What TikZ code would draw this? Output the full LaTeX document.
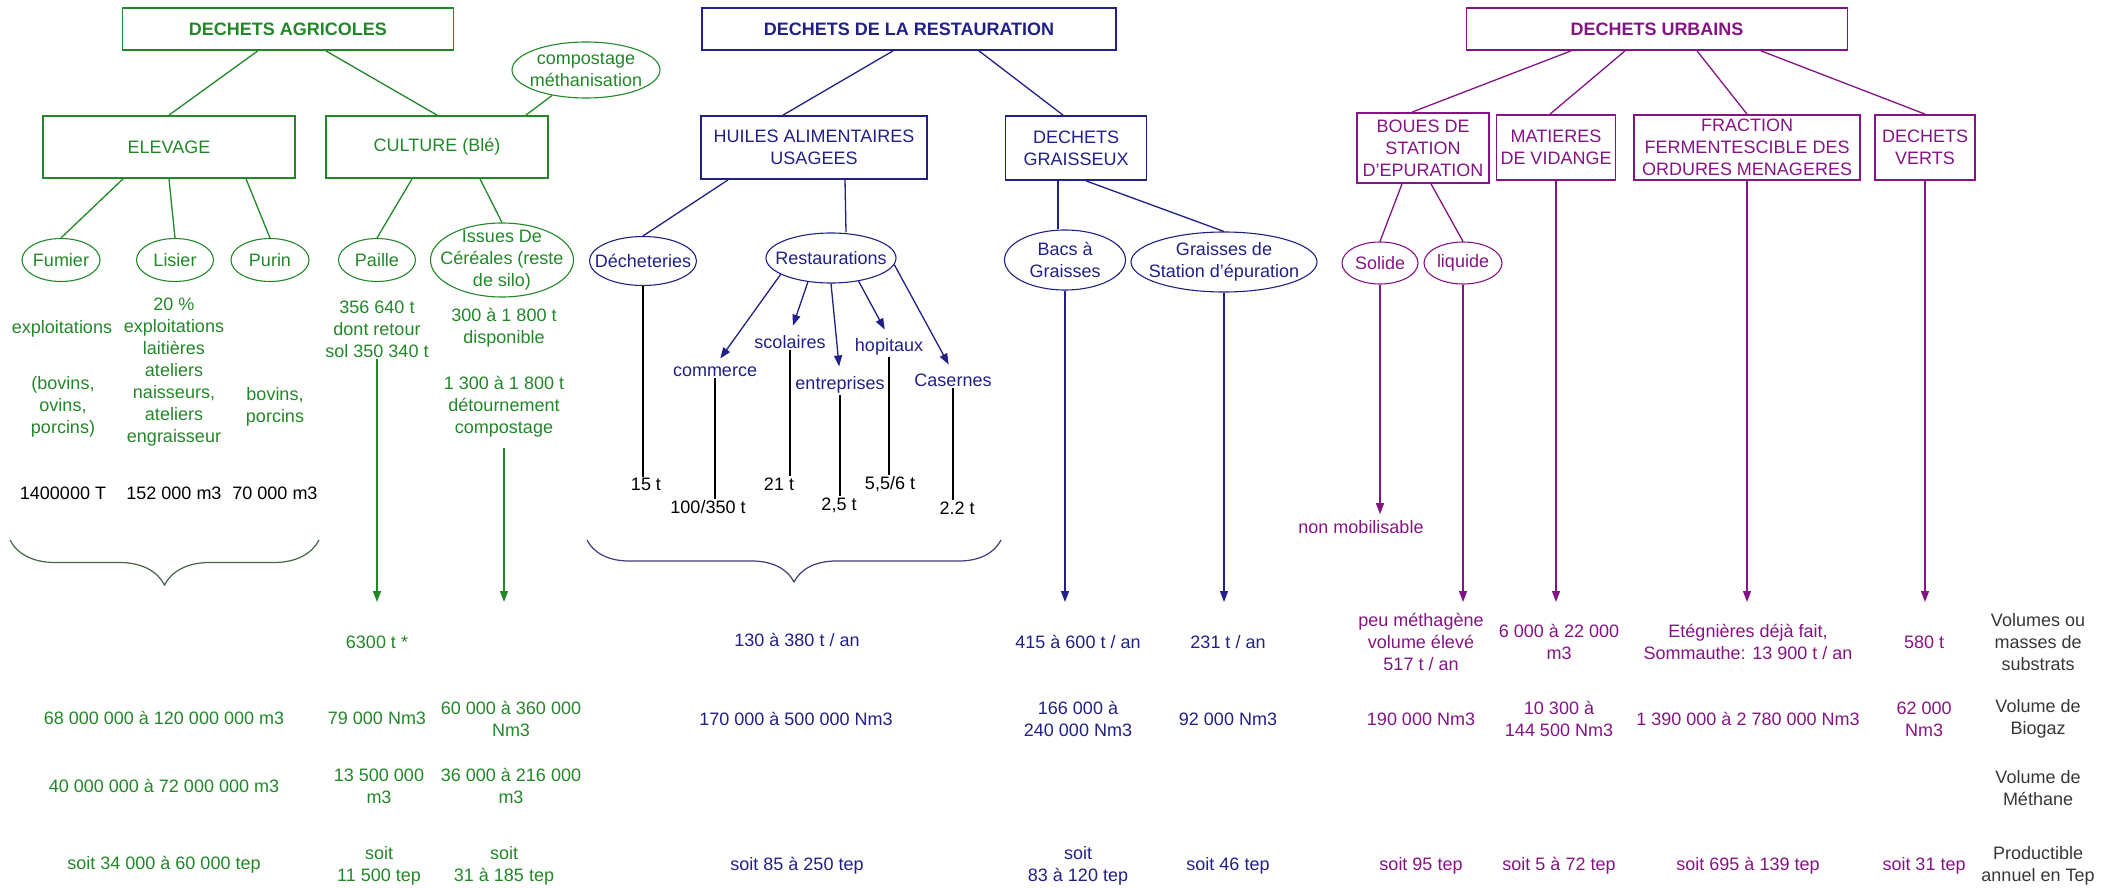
\documentclass[tikz,border=0pt]{standalone}
\usepackage{fontspec}
\setmainfont{Liberation Sans}
\usepackage{tikz}
\usetikzlibrary{arrows.meta}
\usetikzlibrary{shapes.geometric}
\usetikzlibrary{decorations.pathreplacing,calc}
\definecolor{agrigreen}{RGB}{34,135,40}
\definecolor{restblue}{RGB}{32,32,135}
\definecolor{urbpurple}{RGB}{132,20,132}
\definecolor{labelgray}{RGB}{55,55,55}

\begin{document}
\begin{tikzpicture}[x=1pt,y=-1pt,
  every node/.style={font=\fontsize{18}{22}\selectfont, align=center, inner sep=1pt},
  box/.style={draw, rectangle, line width=1.8pt, inner sep=2pt},
  title/.style={box, font=\fontsize{18}{22}\selectfont\bfseries},
  oval/.style={draw, ellipse, line width=1.1pt, inner sep=0pt},
  link/.style={line width=1.3pt},
  down/.style={line width=1.3pt, -{Triangle[width=8pt,length=11pt]}},
  agribox/.style={box, draw=agrigreen, text=agrigreen},
  restbox/.style={box, draw=restblue, text=restblue},
  urbbox/.style={box, draw=urbpurple, text=urbpurple},
  agrioval/.style={oval, draw=agrigreen, label={[text=agrigreen]center:#1}},
  restoval/.style={oval, draw=restblue, label={[text=restblue]center:#1}},
  urboval/.style={oval, draw=urbpurple, label={[text=urbpurple]center:#1}},
  agritxt/.style={text=agrigreen},
  resttxt/.style={text=restblue},
  urbtxt/.style={text=urbpurple},
  axe/.style={text=labelgray},
  agrilink/.style={link, draw=agrigreen},
  restlink/.style={link, draw=restblue},
  urblink/.style={link, draw=urbpurple},
  agridown/.style={down, color=agrigreen},
  restdown/.style={down, color=restblue},
  urbdown/.style={down, color=urbpurple}]

\useasboundingbox (0,0) rectangle (2116,888);
\coordinate (tiprow) at (0,602);

% dechets agricoles
\node[title, agribox, minimum width=331pt, minimum height=42pt] (agri) at (288,29) {DECHETS AGRICOLES};
\node[agrioval={compostage\\méthanisation}, minimum width=148pt, minimum height=56pt] (compost) at (586,70) {};
\node[agribox, minimum width=252pt, minimum height=62pt] (elevage) at (169,147) {ELEVAGE};
\node[agribox, minimum width=222pt, minimum height=62pt] (culture) at (437,147) {CULTURE (Blé)};
\node[agrioval={Fumier}, minimum width=78pt, minimum height=43pt] (fumier) at (61,260) {};
\node[agrioval={Lisier}, minimum width=77pt, minimum height=43pt] (lisier) at (175,260) {};
\node[agrioval={Purin}, minimum width=78pt, minimum height=43pt] (purin) at (270,260) {};
\node[agrioval={Paille}, minimum width=77pt, minimum height=43pt] (paille) at (377,260) {};
\node[agrioval={Issues De\\Céréales (reste\\de silo)}, minimum width=143pt, minimum height=74pt] (issues) at (502,260) {};
\draw[agrilink] (agri) -- (elevage.north);
\draw[agrilink] (agri) -- (culture.north);
\draw[agrilink] (compost) -- ($(culture.north east)+(-23,0)$);
\draw[agrilink] ($(elevage.south)+(-46,0)$) -- (fumier.north);
\draw[agrilink] (elevage.south) -- (lisier.north);
\draw[agrilink] ($(elevage.south)+(77,0)$) -- (purin.north);
\draw[agrilink] ($(culture.south)+(-25,0)$) -- (paille.north);
\draw[agrilink] ($(culture.south)+(43,0)$) -- (issues.north);

\node[agritxt] (fumexpl) at (62,329) {exploitations};
\node[agritxt] (fumtxt) at (63,407) {(bovins,\\ovins,\\porcins)};
\node[agritxt] (listxt) at (174,372) {20 \%\\exploitations\\laitières\\ateliers\\naisseurs,\\ateliers\\engraisseur};
\node[agritxt] (purtxt) at (275,407) {bovins,\\porcins};
\node[agritxt] (pailtxt) at (377,329) {356 640 t\\dont retour\\sol 350 340 t};
\node[agritxt] (isstxt) at (504,328) {300 à 1 800 t\\disponible};
\node[agritxt] (isscomp) at (504,407) {1 300 à 1 800 t\\détournement\\compostage};
\node (fumval) at (63,493) {1400000 T};
\node (lisval) at (174,493) {152 000 m3};
\node (purval) at (275,493) {70 000 m3};
\coordinate (agbl) at (10,540);
\coordinate (agbr) at (319,540);
\draw[color={rgb,255:red,70;green,100;blue,70}, line width=1.2pt, decorate, decoration={brace, mirror, amplitude=45pt}] (agbl) -- (agbr);
\draw[agridown] (pailtxt.south) -- (pailtxt.south |- tiprow);
\draw[agridown, shorten <=9pt] (isscomp.south) -- (isscomp.south |- tiprow);

\node[agritxt] (pailsub) at (377,642) {6300 t *};
\node[agritxt] (agrbio) at (164,718) {68 000 000 à 120 000 000 m3};
\node[agritxt] (pailbio) at (377,718) {79 000 Nm3};
\node[agritxt] (issbio) at (511,719) {60 000 à 360 000\\Nm3};
\node[agritxt] (agrmet) at (164,786) {40 000 000 à 72 000 000 m3};
\node[agritxt] (pailmet) at (379,786) {13 500 000\\m3};
\node[agritxt] (issmet) at (511,786) {36 000 à 216 000\\m3};
\node[agritxt] (agrtep) at (164,865) {soit 34 000 à 60 000 tep};
\node[agritxt] (pailtep) at (379,866) {soit\\11 500 tep};
\node[agritxt] (isstep) at (504,866) {soit\\31 à 185 tep};

% dechets de la restauration
\node[title, restbox, minimum width=414pt, minimum height=42pt] (resto) at (909,29) {DECHETS DE LA RESTAURATION};
\node[restbox, minimum width=226pt, minimum height=63pt] (huiles) at (814,147.5) {HUILES ALIMENTAIRES\\USAGEES};
\node[restbox, minimum width=141pt, minimum height=64pt] (graisseux) at (1076,148) {DECHETS\\GRAISSEUX};
\node[restoval={Décheteries}, minimum width=107pt, minimum height=49pt] (dech) at (643,261) {};
\node[restoval={Restaurations}, minimum width=130pt, minimum height=50pt] (rest) at (831,258) {};
\node[restoval={Bacs à\\Graisses}, minimum width=121pt, minimum height=60pt] (bacs) at (1065,260) {};
\node[restoval={Graisses de\\Station d'épuration}, minimum width=186pt, minimum height=60pt] (gstat) at (1224,262) {};
\draw[restlink] ($(resto.south)+(-16,0)$) -- ($(huiles.north)+(-31,0)$);
\draw[restlink] ($(resto.south)+(70,0)$) -- ($(graisseux.north)+(-13,0)$);
\draw[restlink] ($(huiles.south)+(-86,0)$) -- (dech.north);
\draw[restlink] ($(huiles.south)+(31,0)$) -- ($(rest.north)+(15,0)$);
\draw[restlink] ($(graisseux.south)+(-18,0)$) -- ($(bacs.north)+(-7,0)$);
\draw[restlink] ($(graisseux.south)+(10,0)$) -- (gstat.north);

\node[resttxt] (commerce) at (715,372) {commerce};
\node[resttxt] (scolaires) at (790,342) {scolaires};
\node[resttxt] (entreprises) at (840,385) {entreprises};
\node[resttxt] (hopitaux) at (889,347) {hopitaux};
\node[resttxt] (casernes) at (953,380) {Casernes};
\draw[restdown, shorten >=9pt] (rest.198) -- (commerce.north);
\draw[restdown, shorten >=9pt] (rest.226) -- (scolaires.north);
\draw[restdown, shorten >=9pt] (rest.270) -- (entreprises.north);
\draw[restdown, shorten >=9pt] (rest.320) -- (hopitaux.north);
\draw[restdown, shorten >=9pt] (rest.354) -- (casernes.north);

\node (v15) at (646,484) {15 t};
\node (v100) at (708,507) {100/350 t};
\node (v21) at (779,484) {21 t};
\node (v25) at (839,505) {2,5 t};
\node (v55) at (890,484) {5,5/6 t};
\node (v22) at (957,508) {2.2 t};
\draw[link] (dech.south) -- (dech.south |- v15.north);
\draw[link] (commerce.south) -- (commerce.south |- v100.north);
\draw[link] (scolaires.south) -- (scolaires.south |- v21.north);
\draw[link] (entreprises.south) -- (entreprises.south |- v25.north);
\draw[link] (hopitaux.south) -- (hopitaux.south |- v55.north);
\draw[link] (casernes.south) -- (casernes.south |- v22.north);
\coordinate (rsbl) at (587,540);
\coordinate (rsbr) at (1001,540);
\draw[color={rgb,255:red,60;green,60;blue,120}, line width=1.2pt, decorate, decoration={brace, mirror, amplitude=42pt}] (rsbl) -- (rsbr);
\draw[restdown] (bacs.south) -- (bacs.south |- tiprow);
\draw[restdown] (gstat.south) -- (gstat.south |- tiprow);

\node[resttxt] (restsub) at (797,640) {130 à 380 t / an};
\node[resttxt] (bacssub) at (1078,642) {415 à 600 t / an};
\node[resttxt] (gstatsub) at (1228,642) {231 t / an};
\node[resttxt] (restbio) at (796,719) {170 000 à 500 000 Nm3};
\node[resttxt] (bacsbio) at (1078,719) {166 000 à\\240 000 Nm3};
\node[resttxt] (gstatbio) at (1228,719) {92 000 Nm3};
\node[resttxt] (resttep) at (797,866) {soit 85 à 250 tep};
\node[resttxt] (bacstep) at (1078,866) {soit\\83 à 120 tep};
\node[resttxt] (gstattep) at (1228,866) {soit 46 tep};

% dechets urbains
\node[title, urbbox, minimum width=381pt, minimum height=42pt] (urb) at (1657,29) {DECHETS URBAINS};
\node[urbbox, minimum width=132pt, minimum height=70pt] (boues) at (1423,148) {BOUES DE\\STATION\\D'EPURATION};
\node[urbbox, minimum width=119pt, minimum height=65pt] (matieres) at (1556,147.5) {MATIERES\\DE VIDANGE};
\node[urbbox, minimum width=226pt, minimum height=65pt] (fraction) at (1747,147.5) {FRACTION\\FERMENTESCIBLE DES\\ORDURES MENAGERES};
\node[urbbox, minimum width=100pt, minimum height=65pt] (verts) at (1925,147.5) {DECHETS\\VERTS};
\node[urboval={Solide}, minimum width=76pt, minimum height=42pt] (solide) at (1380,263) {};
\node[urboval={liquide}, minimum width=78pt, minimum height=42pt] (liquide) at (1463,263) {};
\draw[urblink] ($(urb.south)+(-86,0)$) -- ($(boues.north)+(-11,0)$);
\draw[urblink] ($(urb.south)+(-32,0)$) -- ($(matieres.north)+(-6,0)$);
\draw[urblink] ($(urb.south)+(40,0)$) -- (fraction.north);
\draw[urblink] ($(urb.south)+(104,0)$) -- (verts.north);
\draw[urblink] ($(boues.south)+(-21,0)$) -- (solide.north);
\draw[urblink] ($(boues.south)+(8,0)$) -- (liquide.north);

\node[urbtxt] (nonmob) at (1361,527) {non mobilisable};
\draw[urbdown, shorten >=5pt] (solide.south) -- (solide.south |- nonmob.north);
\draw[urbdown] (liquide.south) -- (liquide.south |- tiprow);
\draw[urbdown] (matieres.south) -- (matieres.south |- tiprow);
\draw[urbdown] (fraction.south) -- (fraction.south |- tiprow);
\draw[urbdown] (verts.south) -- (verts.south |- tiprow);

\node[urbtxt] (liqsub) at (1421,642) {peu méthagène\\volume élevé\\517 t / an};
\node[urbtxt] (matsub) at (1559,642) {6 000 à 22 000\\m3};
\node[urbtxt] (fracsub) at (1748,642) {Etégnières déjà fait,\\Sommauthe: 13 900 t / an};
\node[urbtxt] (vertsub) at (1924,642) {580 t};
\node[urbtxt] (liqbio) at (1421,719) {190 000 Nm3};
\node[urbtxt] (matbio) at (1559,719) {10 300 à\\144 500 Nm3};
\node[urbtxt] (fracbio) at (1748,719) {1 390 000 à 2 780 000 Nm3};
\node[urbtxt] (vertbio) at (1924,719) {62 000\\Nm3};
\node[urbtxt] (liqtep) at (1421,866) {soit 95 tep};
\node[urbtxt] (mattep) at (1559,866) {soit 5 à 72 tep};
\node[urbtxt] (fractep) at (1748,866) {soit 695 à 139 tep};
\node[urbtxt] (verttep) at (1924,866) {soit 31 tep};

% lignes
\node[axe] (axesub) at (2038,642) {Volumes ou\\masses de\\substrats};
\node[axe] (axebio) at (2038,719) {Volume de\\Biogaz};
\node[axe] (axemet) at (2038,788) {Volume de\\Méthane};
\node[axe] (axetep) at (2038,866) {Productible\\annuel en Tep};
\end{tikzpicture}
\end{document}
